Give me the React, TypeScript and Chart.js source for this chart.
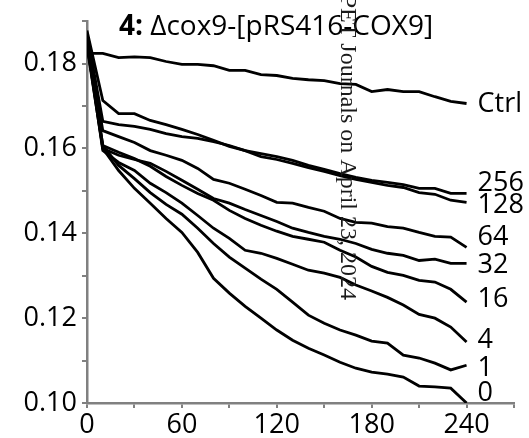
import React, { useEffect, useRef } from 'react';
import { Chart, registerables } from 'chart.js';

Chart.register(...registerables);

// ---- data ----
const minutes = [0, 10, 20, 30, 40, 50, 60, 70, 80, 90, 100, 110, 120, 130, 140, 150, 160, 170, 180, 190, 200, 210, 220, 230, 240];

const ctrl = [0.1824, 0.1824, 0.1814, 0.1816, 0.1814, 0.1805, 0.1798, 0.1798, 0.1795, 0.1784, 0.1784, 0.1774, 0.1772, 0.1765, 0.1762, 0.1760, 0.1753, 0.1751, 0.1734, 0.1739, 0.1734, 0.1734, 0.1722, 0.1711, 0.1706];
const c256 = [0.1878, 0.1713, 0.1682, 0.1682, 0.1666, 0.1656, 0.1645, 0.1633, 0.1619, 0.1605, 0.1595, 0.1588, 0.1581, 0.1572, 0.1560, 0.1551, 0.1541, 0.1532, 0.1525, 0.1520, 0.1515, 0.1506, 0.1506, 0.1494, 0.1494];
const c128 = [0.1871, 0.1664, 0.1656, 0.1652, 0.1645, 0.1635, 0.1628, 0.1624, 0.1616, 0.1607, 0.1595, 0.1581, 0.1574, 0.1565, 0.1555, 0.1546, 0.1536, 0.1527, 0.1520, 0.1513, 0.1508, 0.1496, 0.1492, 0.1478, 0.1473];
const c64 = [0.1864, 0.1642, 0.1628, 0.1614, 0.1595, 0.1584, 0.1572, 0.1553, 0.1527, 0.1518, 0.1504, 0.1489, 0.1473, 0.1471, 0.1461, 0.1452, 0.1435, 0.1426, 0.1424, 0.1416, 0.1412, 0.1402, 0.1393, 0.1391, 0.1367];
const c32 = [0.1859, 0.1600, 0.1584, 0.1574, 0.1565, 0.1546, 0.1525, 0.1504, 0.1482, 0.1471, 0.1456, 0.1442, 0.1428, 0.1412, 0.1402, 0.1393, 0.1386, 0.1376, 0.1362, 0.1353, 0.1348, 0.1336, 0.1339, 0.1329, 0.1329];
const c16 = [0.1854, 0.1607, 0.1591, 0.1576, 0.1558, 0.1534, 0.1513, 0.1494, 0.1478, 0.1454, 0.1435, 0.1419, 0.1405, 0.1393, 0.1386, 0.1379, 0.1360, 0.1344, 0.1322, 0.1308, 0.1301, 0.1289, 0.1285, 0.1268, 0.1238];
const c4 = [0.1849, 0.1595, 0.1567, 0.1548, 0.1518, 0.1496, 0.1471, 0.1442, 0.1412, 0.1388, 0.1360, 0.1353, 0.1341, 0.1327, 0.1313, 0.1306, 0.1296, 0.1278, 0.1264, 0.1249, 0.1231, 0.1209, 0.1200, 0.1179, 0.1144];
const c1 = [0.1845, 0.1607, 0.1560, 0.1529, 0.1496, 0.1468, 0.1445, 0.1412, 0.1376, 0.1344, 0.1318, 0.1292, 0.1268, 0.1238, 0.1207, 0.1188, 0.1172, 0.1160, 0.1146, 0.1141, 0.1113, 0.1106, 0.1094, 0.1078, 0.1089];
const c0 = [0.1840, 0.1600, 0.1548, 0.1506, 0.1471, 0.1435, 0.1402, 0.1355, 0.1294, 0.1259, 0.1228, 0.1200, 0.1172, 0.1148, 0.1129, 0.1113, 0.1096, 0.1082, 0.1073, 0.1068, 0.1061, 0.1040, 0.1038, 0.1035, 0.1000];

const seriesLabels = ['Ctrl', '256', '128', '64', '32', '16', '4', '1', '0'];
const seriesValues = [ctrl, c256, c128, c64, c32, c16, c4, c1, c0];

const titleBold = '4:';
const titleRest = ' \u0394cox9-[pRS416-COX9]';
const watermark = 'Downloaded from jpet.aspetjournals.org at ASPET Journals on April 23, 2024';

// ---- style ----
const FONT = '"Open Sans", "DejaVu Sans", sans-serif';
const AXIS_GRAY = '#808080';
const labelNudge: Record<string, number> = { Ctrl: 1, '256': -10, '128': 3, '64': -10, '32': 2, '16': -3, '4': -2, '1': 3, '0': -10 };

const overlayPlugin = {
  id: 'overlay',
  afterDatasetsDraw(chart: any) {
    const ctx = chart.ctx as CanvasRenderingContext2D;
    const xs = chart.scales.x;
    const ys = chart.scales.y;
    ctx.save();
    ctx.fillStyle = '#000';

    // end-of-line labels
    ctx.font = `27px ${FONT}`;
    ctx.textAlign = 'left';
    ctx.textBaseline = 'middle';
    chart.data.datasets.forEach((ds: any) => {
      const last = ds.data[ds.data.length - 1];
      const px = xs.getPixelForValue(last.x);
      const py = ys.getPixelForValue(last.y);
      ctx.fillText(ds.label, px + 11, py + (labelNudge[ds.label] || 0));
    });

    // title with bold prefix
    ctx.textBaseline = 'alphabetic';
    const boldFont = `bold 28px ${FONT}`;
    const normFont = `28px ${FONT}`;
    ctx.font = boldFont;
    const wb = ctx.measureText(titleBold).width;
    ctx.font = normFont;
    const wr = ctx.measureText(titleRest).width;
    const cx = 276;
    const x0 = cx - (wb + wr) / 2;
    ctx.font = boldFont;
    ctx.fillText(titleBold, x0, 35);
    ctx.font = normFont;
    ctx.fillText(titleRest, x0 + wb, 35);

    // vertical watermark
    ctx.save();
    ctx.translate(347, 300);
    ctx.rotate(Math.PI / 2);
    ctx.fillStyle = '#1a1a1a';
    ctx.font = `24px "Liberation Serif", "DejaVu Serif", serif`;
    ctx.textAlign = 'right';
    ctx.textBaseline = 'middle';
    ctx.fillText(watermark, 0, 0);
    ctx.restore();

    ctx.restore();
  },
};

export default function App() {
  const canvasRef = useRef<HTMLCanvasElement | null>(null);

  useEffect(() => {
    const canvas = canvasRef.current;
    if (!canvas) return;
    const datasets = seriesLabels.map((label, i) => ({
      label,
      data: minutes.map((t, j) => ({ x: t, y: seriesValues[i][j] })),
      borderColor: '#000',
      backgroundColor: '#000',
      borderWidth: 2.8,
      pointRadius: 0,
      tension: 0,
      fill: false,
    }));
    const chart = new Chart(canvas, {
      type: 'line',
      data: { datasets },
      options: {
        animation: false,
        responsive: false,
        devicePixelRatio: 1,
        layout: { padding: { top: 19, right: 15, left: 0, bottom: 0 } },
        plugins: {
          legend: { display: false },
          title: { display: false },
          tooltip: { enabled: false },
        },
        scales: {
          x: {
            type: 'linear',
            min: 0,
            max: 270,
            afterFit: (s: any) => { s.height = 35; },
            border: { color: AXIS_GRAY, width: 2.5 },
            grid: { drawOnChartArea: false, color: AXIS_GRAY, lineWidth: 2, tickLength: 5 },
            ticks: {
              stepSize: 30,
              autoSkip: false,
              maxRotation: 0,
              padding: 1,
              color: '#000',
              font: { family: FONT, size: 27 },
              callback: (v: any) => (Math.round(v) % 60 === 0 ? String(Math.round(v)) : ''),
            },
          },
          y: {
            type: 'linear',
            min: 0.1,
            max: 0.19,
            afterFit: (s: any) => { s.width = 87; },
            border: { color: AXIS_GRAY, width: 2.5 },
            grid: { drawOnChartArea: false, color: AXIS_GRAY, lineWidth: 2, tickLength: 5 },
            ticks: {
              stepSize: 0.01,
              autoSkip: false,
              padding: 5,
              color: '#000',
              font: { family: FONT, size: 27 },
              callback: (v: any) => {
                const k = Math.round(Number(v) * 100);
                return k % 2 === 0 ? (k / 100).toFixed(2) : '';
              },
            },
          },
        },
      },
      plugins: [overlayPlugin],
    });
    return () => chart.destroy();
  }, []);

  return (
    <div style={{ position: 'absolute', left: 0, top: 0, width: 529, height: 438, background: '#fff' }}>
      <canvas ref={canvasRef} width={529} height={438} style={{ display: 'block' }} />
    </div>
  );
}
